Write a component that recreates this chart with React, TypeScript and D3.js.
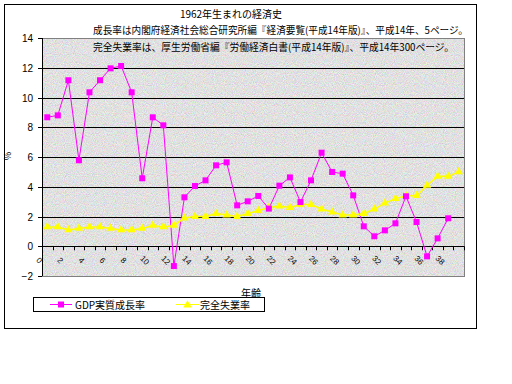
import React from 'react';
import * as d3 from 'd3';

// ages 0..39 (born 1962)
const ages = d3.range(0, 40);
const gdpGrowth = [8.67, 8.8, 11.16, 5.78, 10.35, 11.16, 11.96, 12.12, 10.35, 4.57,
  8.67, 8.13, -1.33, 3.29, 4.05, 4.43, 5.44, 5.64, 2.75, 3.02,
  3.38, 2.53, 4.07, 4.63, 2.97, 4.43, 6.29, 4.99, 4.88, 3.42,
  1.34, 0.67, 1.07, 1.54, 3.36, 1.63, -0.68, 0.53, 1.88];
const unemployment = [1.3, 1.3, 1.1, 1.2, 1.3, 1.3, 1.2, 1.1, 1.1, 1.2,
  1.4, 1.3, 1.4, 1.9, 2.0, 2.0, 2.2, 2.1, 2.0, 2.2,
  2.4, 2.6, 2.7, 2.6, 2.8, 2.8, 2.5, 2.3, 2.1, 2.1,
  2.2, 2.5, 2.9, 3.2, 3.4, 3.4, 4.1, 4.7, 4.7, 5.0];
const yTicks = [-2, 0, 2, 4, 6, 8, 10, 12, 14];
const xLabels = d3.range(0, 40, 2);

const title = '1962年生まれの経済史';
const note1 = '成長率は内閣府経済社会総合研究所編『経済要覧(平成14年版)』、平成14年、5ページ。';
const note2 = '完全失業率は、厚生労働省編『労働経済白書(平成14年版)』、平成14年300ページ。';
const seriesNames = ['GDP実質成長率', '完全失業率'];

const font = '"Noto Sans CJK JP", "Noto Sans", sans-serif';

export default function App() {
  const left = 42, right = 464, top = 38, bottom = 276;
  const x = d3.scaleBand<number>().domain(ages).range([left, right]).padding(0);
  const cx = (i: number) => (x(i) as number) + x.bandwidth() / 2;
  const y = d3.scaleLinear().domain([-2, 14]).range([bottom, top]);

  const gdpLine = d3.line<number>().x((_, i) => cx(i)).y(d => y(d));
  const tri = d3.symbol().type(d3.symbolTriangle).size(30)();

  return (
    <svg width={512} height={384} style={{ position: 'absolute', left: 0, top: 0, background: '#fff' }}
      fontFamily={font}>
      <defs>
        <filter id="noise" x="0" y="0" width="100%" height="100%">
          <feTurbulence type="fractalNoise" baseFrequency="1.1" numOctaves={1} seed={4} result="t" />
          <feColorMatrix in="t" type="matrix"
            values="0.7 0 0 0 0.4  0 0.7 0 0 0.4  0 0 0.7 0 0.4  0 0 0 0 1" />
        </filter>
      </defs>

      {/* chart border */}
      <rect x={4.5} y={4.5} width={472} height={324} fill="#fff" stroke="#000" />

      {/* plot area */}
      <rect x={left} y={top} width={right - left} height={bottom - top} filter="url(#noise)" />
      <rect x={left + 0.5} y={top + 0.5} width={right - left} height={bottom - top} fill="none" stroke="#808080" />

      {yTicks.filter(t => t > -2 && t < 14).map(t => (
        <line key={t} x1={left} x2={right} y1={Math.round(y(t)) + 0.5} y2={Math.round(y(t)) + 0.5} stroke="#000" />
      ))}
      <line x1={left + 0.5} x2={left + 0.5} y1={top} y2={bottom} stroke="#000" />
      {yTicks.map(t => (
        <g key={t}>
          <line x1={left - 4} x2={left} y1={Math.round(y(t)) + 0.5} y2={Math.round(y(t)) + 0.5} stroke="#000" />
          <text x={33} y={y(t) + 4} textAnchor="end" fontSize={10} fontFamily="Arial, Liberation Sans">{t === -2 ? '−2' : t}</text>
        </g>
      ))}

      {/* category ticks on the zero line */}
      {ages.map(a => (
        <line key={a} x1={Math.round(x(a) as number) + 0.5} x2={Math.round(x(a) as number) + 0.5}
          y1={y(0)} y2={y(0) + 4} stroke="#000" />
      ))}
      <line x1={right + 0.5} x2={right + 0.5} y1={y(0)} y2={y(0) + 4} stroke="#000" />
      {xLabels.map(a => (
        <text key={a} transform={`translate(${cx(a) - 10},${y(0) + 16}) rotate(45)`}
          textAnchor="middle" fontSize={8} fontFamily="Arial, Liberation Sans">{a}</text>
      ))}

      {/* series */}
      <path d={gdpLine(gdpGrowth) as string} fill="none" stroke="#ff00ff" strokeWidth={1} />
      <path d={gdpLine(unemployment) as string} fill="none" stroke="#ffff00" strokeWidth={1.5} />
      {unemployment.map((v, i) => (
        <path key={i} d={tri as string} transform={`translate(${cx(i)},${y(v)})`} fill="#ffff00" />
      ))}
      {gdpGrowth.map((v, i) => (
        <rect key={i} x={cx(i) - 3} y={y(v) - 3} width={6} height={6} fill="#ff00ff" />
      ))}

      {/* titles */}
      <text x={231} y={18} textAnchor="middle" fontSize={10}>{title}</text>
      <text x={93} y={34} fontSize={10} textLength={375} lengthAdjust="spacingAndGlyphs">{note1}</text>
      <text x={93} y={51} fontSize={10} textLength={361} lengthAdjust="spacingAndGlyphs">{note2}</text>
      <text transform="translate(11,156) rotate(-90)" textAnchor="middle" fontSize={9}>%</text>
      <text x={251} y={297} textAnchor="middle" fontSize={10}>年齢</text>

      {/* legend */}
      <rect x={33.5} y={297.5} width={231} height={14} fill="#fff" stroke="#000" />
      <line x1={50} x2={72} y1={304.5} y2={304.5} stroke="#ff00ff" />
      <rect x={58} y={301.5} width={6} height={6} fill="#ff00ff" />
      <text x={75} y={309} fontSize={10}>{seriesNames[0]}</text>
      <line x1={176} x2={199} y1={304.5} y2={304.5} stroke="#ffff00" />
      <path d={tri as string} transform="translate(187.5,305)" fill="#ffff00" />
      <text x={200} y={309} fontSize={10}>{seriesNames[1]}</text>
    </svg>
  );
}
